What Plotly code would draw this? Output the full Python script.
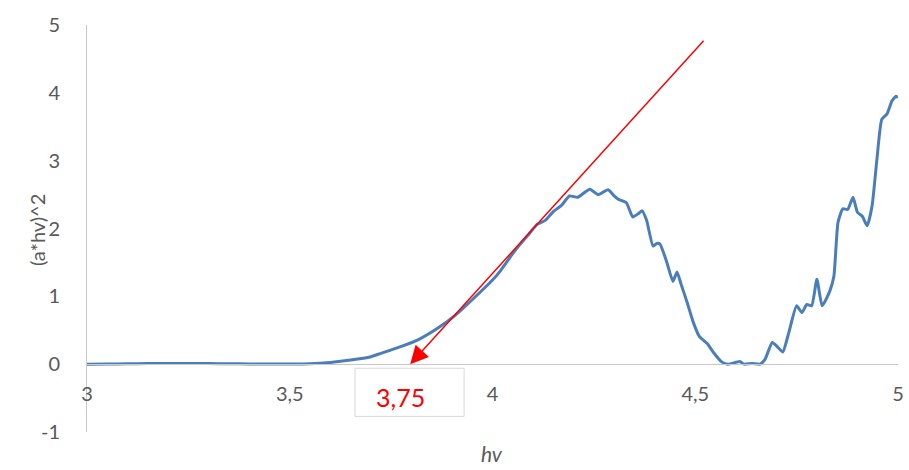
import plotly.graph_objects as go

hv = [3.00, 3.05, 3.10, 3.15, 3.20, 3.25, 3.30, 3.35, 3.40, 3.45, 3.50, 3.55, 3.60, 3.65,
      3.70, 3.72, 3.77, 3.82, 3.87, 3.91, 3.95, 4.00, 4.02, 4.05, 4.07, 4.09, 4.11, 4.13,
      4.15, 4.17, 4.19, 4.21, 4.24, 4.26, 4.285, 4.30, 4.31, 4.33, 4.346, 4.36, 4.369, 4.38,
      4.396, 4.405, 4.413, 4.43, 4.445, 4.455, 4.465, 4.48, 4.495, 4.51, 4.53, 4.544, 4.566,
      4.58, 4.59, 4.61, 4.62, 4.64, 4.66, 4.672, 4.69, 4.705, 4.716, 4.73, 4.75, 4.763,
      4.775, 4.787, 4.80, 4.813, 4.832, 4.842, 4.852, 4.864, 4.876, 4.889, 4.90, 4.912,
      4.924, 4.936, 4.948, 4.96, 4.973, 4.985, 4.995, 5.0]
ahv2 = [0.0, 0.003, 0.005, 0.008, 0.01, 0.01, 0.008, 0.006, 0.004, 0.002, 0.002, 0.006, 0.025,
        0.06, 0.11, 0.15, 0.25, 0.37, 0.55, 0.73, 0.95, 1.24, 1.38, 1.63, 1.78, 1.92, 2.06,
        2.12, 2.25, 2.34, 2.48, 2.46, 2.58, 2.5, 2.57, 2.48, 2.43, 2.38, 2.17, 2.22, 2.26,
        2.12, 1.74, 1.78, 1.77, 1.5, 1.22, 1.36, 1.18, 0.91, 0.62, 0.41, 0.30, 0.18, 0.03,
        0.0, 0.01, 0.04, 0.0, 0.01, 0.0, 0.07, 0.32, 0.24, 0.18, 0.45, 0.86, 0.76, 0.88,
        0.86, 1.25, 0.86, 1.08, 1.3, 2.09, 2.29, 2.28, 2.46, 2.24, 2.18, 2.04, 2.33, 3.02,
        3.61, 3.69, 3.88, 3.95, 3.93]

x_ticks = [3, 3.5, 4, 4.5, 5]
x_tick_labels = ["3", "3,5", "4", "4,5", "5"]
y_ticks = [-1, 0, 1, 2, 3, 4, 5]
y_tick_labels = ["-1", "0", "1", "2", "3", "4", "5"]

tangent_start = (4.524, 4.79)
tangent_end = (3.797, 0.0)
gap_label = "3,75"
gap_label_pos = (3.772, -0.487)
gap_box = (3.661, 3.93, -0.06, -0.77)

GRAY = "#595959"
FONT = "Lato, 'Open Sans', sans-serif"

fig = go.Figure()
fig.add_trace(go.Scatter(x=hv, y=ahv2, mode="lines",
                         line=dict(color="#4A7EBB", width=3, shape="spline", smoothing=0.5),
                         showlegend=False, hoverinfo="skip"))

fig.add_shape(type="rect", xref="x", yref="y",
              x0=gap_box[0], x1=gap_box[1], y0=gap_box[2], y1=gap_box[3],
              line=dict(color="#d9d9d9", width=1), fillcolor="white")

fig.add_annotation(x=tangent_end[0], y=tangent_end[1], ax=tangent_start[0], ay=tangent_start[1],
                   xref="x", yref="y", axref="x", ayref="y", text="", showarrow=True,
                   arrowhead=2, arrowsize=2.4, arrowwidth=1.5, arrowcolor="#FF0000")
fig.add_annotation(x=gap_label_pos[0], y=gap_label_pos[1], xref="x", yref="y",
                   text=gap_label, showarrow=False,
                   font=dict(color="#FF0000", size=25, family=FONT))

fig.add_annotation(x=-0.0617, y=0.496, xref="paper", yref="paper", text="(a*hv)^2",
                   textangle=-90, showarrow=False, xanchor="center", yanchor="middle",
                   font=dict(color=GRAY, size=20, family=FONT))
fig.add_annotation(x=0.499, y=-0.052, xref="paper", yref="paper", text="<i>hv</i>",
                   showarrow=False, xanchor="center", yanchor="middle",
                   font=dict(color=GRAY, size=21, family=FONT))

fig.update_layout(
    width=909, height=470,
    margin=dict(l=87, r=11, t=25, b=38, autoexpand=False),
    plot_bgcolor="white", paper_bgcolor="white",
    font=dict(family=FONT, color=GRAY, size=20),
    xaxis=dict(range=[3, 5], tickvals=x_ticks, ticktext=x_tick_labels,
               anchor="free", position=1/6, showline=True, linecolor="#c8c8c8",
               linewidth=1, showgrid=False, zeroline=False, automargin=False,
               ticks="outside", ticklen=12, tickcolor="rgba(0,0,0,0)",
               tickfont=dict(size=20, color=GRAY, family=FONT)),
    yaxis=dict(range=[-1, 5], tickvals=y_ticks, ticktext=y_tick_labels,
               showline=True, linecolor="#c8c8c8",
               linewidth=1, showgrid=False, zeroline=False, automargin=False,
               ticks="outside", ticklen=22, tickcolor="rgba(0,0,0,0)",
               tickfont=dict(size=20, color=GRAY, family=FONT)),
)

fig.write_html("out.html")
